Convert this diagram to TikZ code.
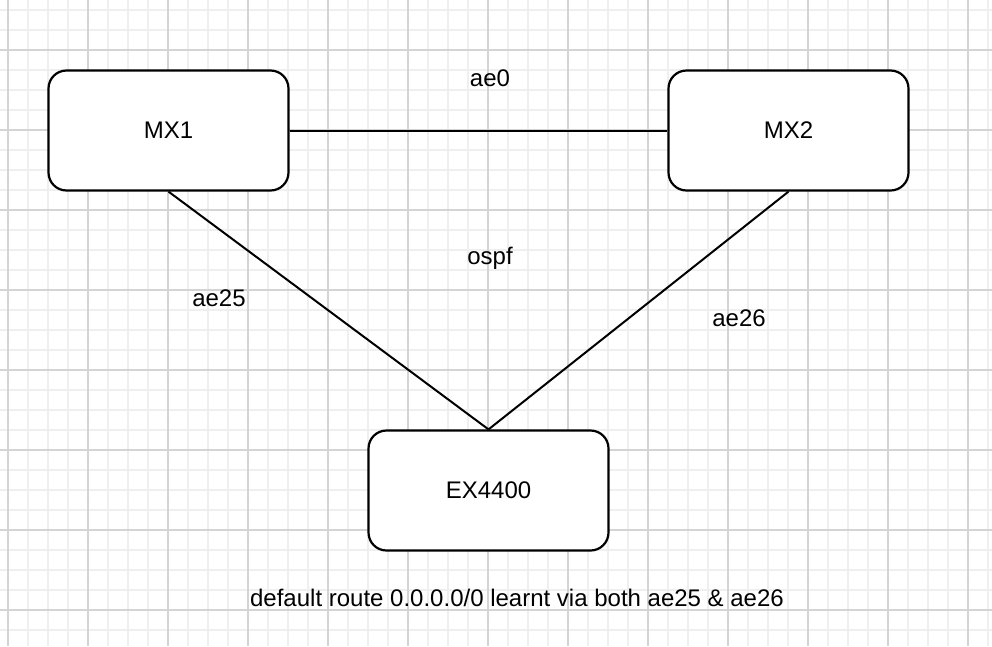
\documentclass[tikz,border=0pt]{standalone}
\usepackage{fontspec}
\setmainfont{Liberation Sans}
\definecolor{minorgrid}{HTML}{EFEFEF}
\definecolor{majorgrid}{HTML}{D4D4D4}
\begin{document}
\begin{tikzpicture}[x=1pt,y=-1pt,
  dev/.style={draw=black,line width=2.2pt,rounded corners=18pt,fill=white,minimum width=240pt,minimum height=120pt,font=\fontsize{24pt}{28pt}\selectfont,inner sep=0pt},
  lbl/.style={font=\fontsize{24pt}{28pt}\selectfont,inner sep=0pt},
  link/.style={draw=black,line width=2pt}]
\useasboundingbox (0,0) rectangle (992,646);
\fill[white] (0,0) rectangle (992,646);
\foreach \x in {8,28,...,988} \draw[minorgrid,line width=1.2pt] (\x,0) -- (\x,646);
\foreach \y in {10,30,...,640} \draw[minorgrid,line width=1.2pt] (0,\y) -- (992,\y);
\foreach \x in {8,88,...,968} \draw[majorgrid,line width=1.2pt] (\x,0) -- (\x,646);
\foreach \y in {50,130,...,610} \draw[majorgrid,line width=1.2pt] (0,\y) -- (992,\y);
\node[dev] (mx1) at (168.5,130.5) {MX1};
\node[dev] (mx2) at (788.5,130.5) {MX2};
\node[dev] (ex) at (488.5,490.5) {EX4400};
\draw[link] (mx1.east) -- (mx2.west);
\draw[link] (mx1.south) -- (ex.north);
\draw[link] (mx2.south) -- (ex.north);
\node[lbl] (ae0) at (490,78) {ae0};
\node[lbl] (ospf) at (490,258) {ospf};
\node[lbl] (ae25) at (219,298) {ae25};
\node[lbl] (ae26) at (739,318) {ae26};
\node[lbl] (note) at (517,598) {default route 0.0.0.0/0 learnt via both ae25 \& ae26};
\end{tikzpicture}
\end{document}
